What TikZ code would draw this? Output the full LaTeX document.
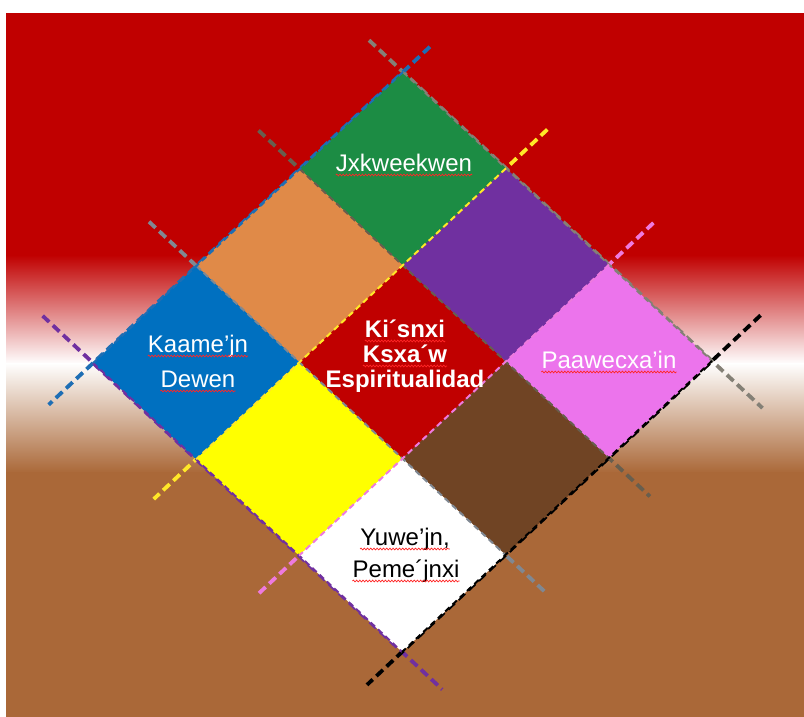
\documentclass[tikz,border=0pt]{standalone}
\usepackage{fontspec}
\setmainfont{Liberation Sans}
\usepackage{xcolor}
\usepackage{tikz}
\usetikzlibrary{calc,decorations.pathmorphing}

\definecolor{bgred}{RGB}{192,0,0}
\definecolor{bgbrown}{RGB}{170,104,56}
\definecolor{cgreen}{RGB}{28,140,68}
\definecolor{corange}{RGB}{224,138,72}
\definecolor{cblue}{RGB}{0,112,192}
\definecolor{cpurple}{RGB}{112,48,160}
\definecolor{cred}{RGB}{192,0,0}
\definecolor{cyellow}{RGB}{255,255,0}
\definecolor{cpink}{RGB}{236,116,236}
\definecolor{cbrown}{RGB}{112,68,36}
\definecolor{lgray}{RGB}{132,128,118}
\definecolor{ldark}{RGB}{104,94,78}
\definecolor{lslate}{RGB}{128,136,146}
\definecolor{lblue}{RGB}{30,110,180}
\definecolor{lyellow}{RGB}{255,232,40}
\definecolor{lpink}{RGB}{238,122,222}
\definecolor{lpurple}{RGB}{112,48,160}

\begin{document}
\begin{tikzpicture}[x=1pt, y=-1pt,
    guide/.style={line width=3.8pt, dash pattern=on 9pt off 5pt},
    inguide/.style={line width=2pt, dash pattern=on 6pt off 4pt},
    lbl/.style={text=white, anchor=base, inner sep=0pt, font=\fontsize{24}{28}\selectfont},
    spell/.style={draw=red!85!white, line width=0.7pt, decorate,
      decoration={snake, amplitude=0.9pt, segment length=3.2pt}}]
  \useasboundingbox (0,0) rectangle (804,717);
  % background: red, fading through white into brown
  \fill[bgred] (6,13) rectangle (804,256);
  \shade[top color=bgred, bottom color=white] (6,255) rectangle (804,364);
  \shade[top color=white, bottom color=bgbrown] (6,363) rectangle (804,473);
  \fill[bgbrown] (6,472) rectangle (804,717);

  % 3x3 grid turned by 45 degrees, top corner at (403,72)
  \begin{scope}[shift={(403,72)}, x={(103pt,-96.3pt)}, y={(-103.3pt,-97pt)}]
    % dashed lines, running past the diamond
    \foreach \v/\c/\s/\e in {0/lgray/-0.33/3.49, 1/ldark/-0.40/3.40,
                             2/lslate/-0.46/3.39, 3/lpurple/-0.49/3.39}
      \draw[guide, \c] (\s,\v) -- (\e,\v);
    \foreach \u/\c/\s/\e in {0/lblue/-0.26/3.43, 1/lyellow/-0.40/3.41,
                             2/lpink/-0.43/3.40, 3/black/-0.47/3.34}
      \draw[guide, \c] (\u,\s) -- (\u,\e);
    % cells
    \foreach \u/\v/\c in {0/0/cgreen, 0/1/corange, 0/2/cblue,
                          1/0/cpurple, 1/1/cred, 1/2/cyellow,
                          2/0/cpink, 2/1/cbrown, 2/2/white}
      \fill[\c] (\u,\v) -- ++(1,0) -- ++(0,1) -- ++(-1,0) -- cycle;
    % the same lines again, thinner, over the cells
    \foreach \v/\c in {0/lgray, 1/ldark, 2/lslate, 3/lpurple}
      \draw[inguide, \c] (0,\v) -- (3,\v);
    \foreach \u/\c in {0/lblue, 1/lyellow, 2/lpink, 3/black}
      \draw[inguide, \c] (\u,0) -- (\u,3);
  \end{scope}

  % labels, one node per line
  \node[lbl] (jx) at (404,171) {Jxkweekwen};
  \node[lbl] (kd1) at (198,352) {Kaame’jn};
  \node[lbl] (kd2) at (198,387) {Dewen};
  \node[lbl, font=\bfseries\fontsize{24}{28}\selectfont] (ks1) at (405,337) {Ki´snxi};
  \node[lbl, font=\bfseries\fontsize{24}{28}\selectfont] (ks2) at (405,362) {Ksxa´w};
  \node[lbl, font=\bfseries\fontsize{24}{28}\selectfont] (ks3) at (405,387) {Espiritualidad};
  \node[lbl] (pw) at (609,368) {Paawecxa’in};
  \node[lbl, text=black] (yp1) at (405,545) {Yuwe’jn,};
  \node[lbl, text=black] (yp2) at (406,577) {Peme´jnxi};
  % spell-check waves under the words
  \foreach \n in {jx,kd1,kd2,ks1,ks2,pw,yp1,yp2}
    \draw[spell] ($(\n.base west)+(0,4)$) -- ($(\n.base east)+(0,4)$);
\end{tikzpicture}
\end{document}
